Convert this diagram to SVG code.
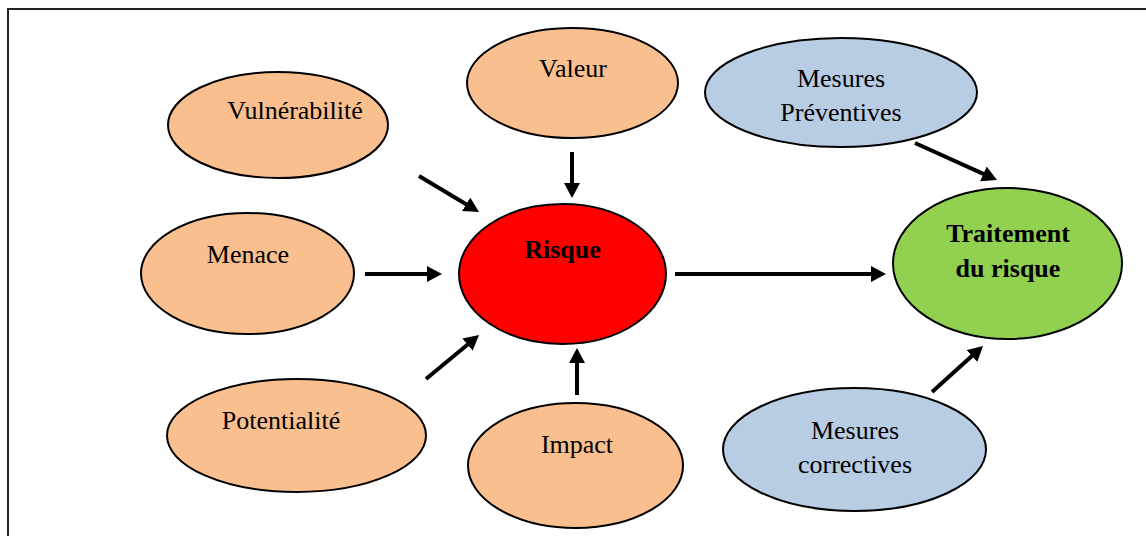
<svg xmlns="http://www.w3.org/2000/svg" width="1146" height="536" viewBox="0 0 1146 536">
<style>
.n{stroke:#000;stroke-width:2}
.o{fill:#F9BF8F}
.b{fill:#B8CCE4}
.t{font-family:"Liberation Serif","Times New Roman",serif;font-size:26px;fill:#000;text-anchor:middle}
.bd{font-weight:bold}
.c line{stroke:#000;stroke-width:4;marker-end:url(#ah)}
</style>
<defs>
<marker id="ah" markerUnits="userSpaceOnUse" markerWidth="16" markerHeight="17" refX="3" refY="8" orient="auto">
<path d="M0,0 L15,8 L0,16 z" fill="#000"/>
</marker>
</defs>
<rect x="0" y="0" width="1146" height="536" fill="#fff"/>
<path d="M8,540 L8,9 L1150,9" fill="none" stroke="#222" stroke-width="2"/>
<g id="valeur"><ellipse class="n o" cx="572.5" cy="83" rx="105.5" ry="55"/><text class="t" x="573" y="77">Valeur</text></g>
<g id="vulnerabilite"><ellipse class="n o" cx="278" cy="125" rx="110" ry="53"/><text class="t" x="295" y="119">Vulnérabilité</text></g>
<g id="menace"><ellipse class="n o" cx="247.5" cy="273.5" rx="106.5" ry="60.5"/><text class="t" x="248" y="263">Menace</text></g>
<g id="potentialite"><ellipse class="n o" cx="296.5" cy="435.5" rx="129.5" ry="56.5"/><text class="t" x="281" y="429">Potentialité</text></g>
<g id="impact"><ellipse class="n o" cx="575.5" cy="465.5" rx="107.5" ry="62.5"/><text class="t" x="577" y="453">Impact</text></g>
<g id="risque"><ellipse class="n" fill="#FF0000" cx="562.5" cy="274" rx="103.5" ry="70"/><text class="t bd" x="562.5" y="258">Risque</text></g>
<g id="preventives"><ellipse class="n b" cx="841" cy="92.5" rx="136" ry="54.5"/><text class="t" x="841" y="87">Mesures</text><text class="t" x="841" y="121">Préventives</text></g>
<g id="traitement"><ellipse class="n" fill="#92D050" cx="1007.5" cy="263.5" rx="114.5" ry="75.5"/><text class="t bd" x="1008" y="242">Traitement</text><text class="t bd" x="1008" y="277">du risque</text></g>
<g id="correctives"><ellipse class="n b" cx="854.5" cy="449.5" rx="131.5" ry="61.5"/><text class="t" x="855" y="439">Mesures</text><text class="t" x="855" y="473">correctives</text></g>
<g id="connectors" class="c">
<line x1="572" y1="152" x2="572" y2="186"/>
<line x1="419" y1="176" x2="468.7" y2="205.8"/>
<line x1="365" y1="274" x2="430" y2="274"/>
<line x1="426" y1="379" x2="469.8" y2="342.7"/>
<line x1="577" y1="395" x2="577" y2="360"/>
<line x1="675" y1="274" x2="874" y2="274"/>
<line x1="915" y1="143" x2="986.1" y2="175.1"/>
<line x1="932" y1="392" x2="974.1" y2="354"/>
</g>
</svg>
